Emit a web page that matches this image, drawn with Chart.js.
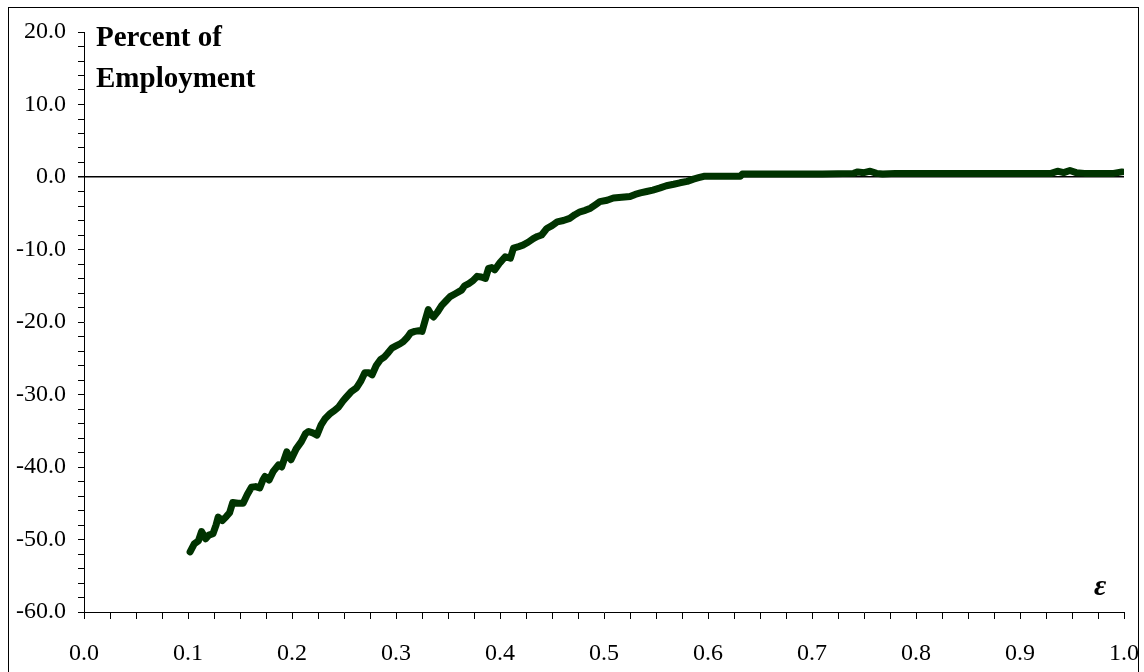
<!DOCTYPE html>
<html>
<head>
<meta charset="utf-8">
<title>Percent of Employment</title>
<script src="https://cdn.jsdelivr.net/npm/chart.js@4"></script>
<style>
    body { margin: 0; background: #ffffff; }
    #wrap { width: 1144px; height: 672px; }
</style>
</head>
<body>
<div id="wrap"><canvas id="employmentChart" width="1144" height="672"></canvas></div>
<script>
// epsilon values (x) and change in employment, percent (y)
var epsilon = [
    0.102, 0.106, 0.110, 0.113, 0.117, 0.120, 0.124, 0.127, 0.129, 0.133,
    0.137, 0.140, 0.143, 0.148, 0.153, 0.157, 0.161, 0.165, 0.169, 0.172,
    0.174, 0.178, 0.182, 0.187, 0.190, 0.195, 0.199, 0.204, 0.209, 0.213,
    0.216, 0.220, 0.224, 0.228, 0.232, 0.237, 0.241, 0.245, 0.249, 0.252,
    0.257, 0.262, 0.266, 0.270, 0.274, 0.277, 0.281, 0.285, 0.289, 0.292,
    0.296, 0.300, 0.304, 0.307, 0.311, 0.314, 0.318, 0.322, 0.325, 0.328,
    0.331, 0.334, 0.336, 0.340, 0.344, 0.348, 0.352, 0.357, 0.363, 0.366,
    0.370, 0.374, 0.378, 0.382, 0.386, 0.389, 0.392, 0.395, 0.400, 0.405,
    0.410, 0.413, 0.418, 0.422, 0.427, 0.432, 0.436, 0.440, 0.445, 0.450,
    0.455, 0.461, 0.467, 0.472, 0.477, 0.482, 0.487, 0.492, 0.496, 0.503,
    0.509, 0.517, 0.525, 0.530, 0.535, 0.541, 0.547, 0.554, 0.560, 0.567,
    0.573, 0.580, 0.586, 0.591, 0.596, 0.610, 0.625, 0.631, 0.633, 0.650,
    0.680, 0.710, 0.740, 0.744, 0.750, 0.756, 0.762, 0.768, 0.780, 0.800,
    0.830, 0.860, 0.900, 0.930, 0.936, 0.942, 0.948, 0.954, 0.962, 0.975,
    0.990, 0.998
];
var employment = [
    -51.7, -50.6, -50.2, -48.9, -49.9, -49.4, -49.2, -48.0, -46.9, -47.4,
    -46.8, -46.3, -44.9, -45.0, -45.0, -43.8, -42.8, -42.7, -42.9, -41.8,
    -41.3, -41.8, -40.6, -39.7, -40.0, -37.9, -39.0, -37.5, -36.5, -35.4,
    -35.1, -35.3, -35.6, -34.2, -33.3, -32.6, -32.2, -31.7, -30.9, -30.4,
    -29.6, -29.1, -28.2, -27.0, -27.0, -27.3, -26.0, -25.2, -24.8, -24.3,
    -23.6, -23.3, -23.0, -22.7, -22.1, -21.5, -21.3, -21.2, -21.3, -19.8,
    -18.3, -19.0, -19.3, -18.6, -17.7, -17.1, -16.5, -16.1, -15.6, -15.0,
    -14.7, -14.3, -13.7, -13.8, -14.0, -12.6, -12.5, -12.8, -11.8, -11.0,
    -11.2, -9.8, -9.6, -9.4, -9.0, -8.5, -8.2, -8.0, -7.1, -6.7,
    -6.2, -6.0, -5.7, -5.2, -4.8, -4.6, -4.3, -3.8, -3.4, -3.2,
    -2.9, -2.8, -2.7, -2.4, -2.2, -2.0, -1.8, -1.5, -1.2, -1.0,
    -0.8, -0.6, -0.3, -0.1, 0.1, 0.1, 0.1, 0.1, 0.4, 0.4,
    0.4, 0.4, 0.5, 0.7, 0.6, 0.8, 0.5, 0.4, 0.5, 0.5,
    0.5, 0.5, 0.5, 0.5, 0.8, 0.6, 0.9, 0.6, 0.5, 0.5,
    0.5, 0.7
];

var yTitleLines = ["Percent of", "Employment"];
var xTitle = "\u03b5";

var points = epsilon.map(function (x, i) {
    return { x: x, y: employment[i] };
});

var serif = "'Liberation Serif', 'Times New Roman', serif";

// frame around the whole figure plus the two axis titles
var decorations = {
    id: "decorations",
    afterDraw: function (chart) {
        var ctx = chart.ctx;
        ctx.save();
        ctx.strokeStyle = "#000000";
        ctx.lineWidth = 1;
        ctx.strokeRect(8.5, 7.5, 1130, 700);

        ctx.fillStyle = "#000000";
        ctx.textAlign = "left";
        ctx.textBaseline = "alphabetic";
        ctx.font = "bold 29px " + serif;
        ctx.fillText(yTitleLines[0], 96, 46);
        ctx.fillText(yTitleLines[1], 96, 87);

        ctx.font = "italic bold 30px " + serif;
        ctx.fillText(xTitle, 1094, 595);
        ctx.restore();
    }
};

new Chart("employmentChart", {
    type: "line",
    data: {
        datasets: [{
            data: points,
            borderColor: "#003300",
            backgroundColor: "#003300",
            borderWidth: 7,
            borderCapStyle: "round",
            borderJoinStyle: "round",
            pointRadius: 0,
            tension: 0,
            fill: false
        }]
    },
    options: {
        responsive: false,
        animation: false,
        layout: {
            padding: { left: 0, right: 20, top: 32, bottom: 0 }
        },
        plugins: {
            legend: { display: false },
            tooltip: { enabled: false }
        },
        scales: {
            x: {
                type: "linear",
                min: 0,
                max: 1,
                afterFit: function (scale) {
                    scale.height = 60;
                    scale.paddingLeft = 0;
                    scale.paddingRight = 0;
                },
                border: { color: "#000000", width: 1 },
                grid: {
                    drawOnChartArea: false,
                    tickLength: 7,
                    tickColor: "#000000"
                },
                ticks: {
                    stepSize: 0.025,
                    autoSkip: false,
                    maxRotation: 0,
                    padding: 20,
                    color: "#000000",
                    font: { family: serif, size: 24 },
                    callback: function (v) {
                        var t = v * 10;
                        return Math.abs(t - Math.round(t)) < 1e-6 ? v.toFixed(1) : "";
                    }
                }
            },
            y: {
                min: -60,
                max: 20,
                afterFit: function (scale) {
                    scale.width = 84;
                    scale.paddingTop = 0;
                    scale.paddingBottom = 0;
                },
                border: { color: "#000000", width: 1 },
                grid: {
                    drawOnChartArea: true,
                    tickLength: 6,
                    tickColor: "#000000",
                    color: function (c) {
                        return c.tick && c.tick.value === 0 ? "#000000" : "rgba(0,0,0,0)";
                    },
                    lineWidth: function (c) {
                        return c.tick && c.tick.value === 0 ? 1.5 : 1;
                    }
                },
                ticks: {
                    stepSize: 2,
                    autoSkip: false,
                    padding: 12,
                    color: "#000000",
                    font: { family: serif, size: 24 },
                    callback: function (v) {
                        return v % 10 === 0 ? v.toFixed(1) : "";
                    }
                }
            }
        }
    },
    plugins: [decorations]
});
</script>
</body>
</html>
